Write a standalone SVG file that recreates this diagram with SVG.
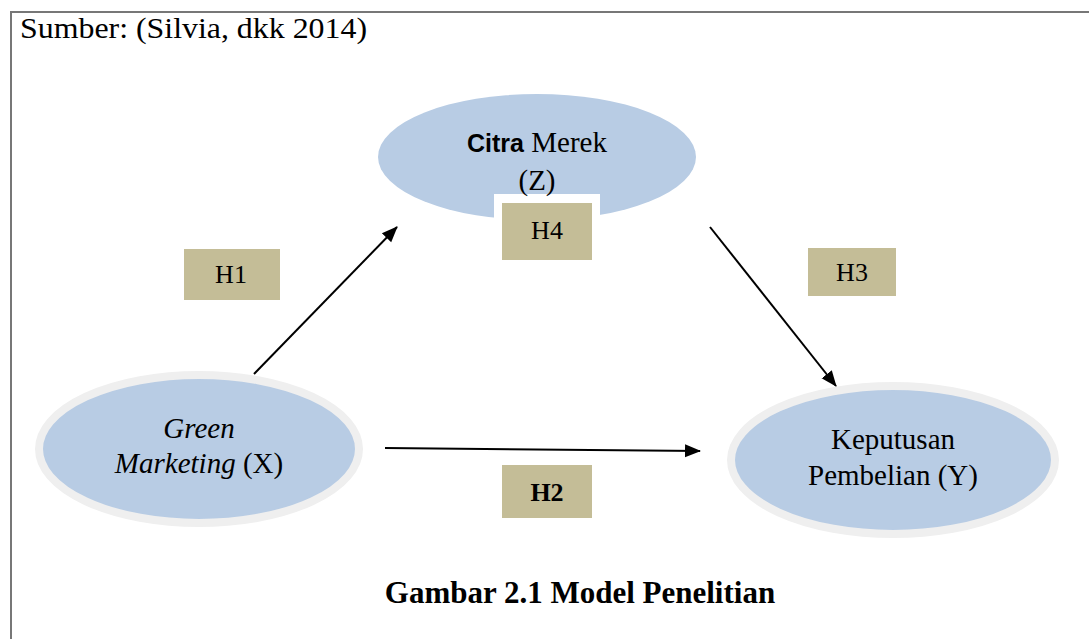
<svg xmlns="http://www.w3.org/2000/svg" width="1089" height="639" viewBox="0 0 1089 639">
<style>
.t{font-family:"Liberation Serif","Times New Roman",serif;fill:#000;}
.node{fill:#b8cce4;}
.halo{fill:#b8cce4;stroke:#efefef;stroke-width:8;}
.box{fill:#c4bd97;}
.conn{stroke:#000;stroke-width:2;fill:none;marker-end:url(#ah);}
</style>
<defs>
<marker id="ah" markerWidth="16" markerHeight="16" refX="15" refY="8" orient="auto" markerUnits="userSpaceOnUse" viewBox="0 0 16 16">
<path d="M0,1.5 L16,8 L0,14.5 z" fill="#000"/>
</marker>
</defs>
<rect width="1089" height="639" fill="#fff"/>
<path d="M11,639 V12 H1089" fill="none" stroke="#777" stroke-width="2"/>
<text class="t" x="20" y="38" font-size="30" textLength="347" lengthAdjust="spacingAndGlyphs">Sumber: (Silvia, dkk 2014)</text>

<g id="node-z">
<ellipse class="node" cx="537" cy="157" rx="159" ry="63"/>
<rect x="494" y="194" width="106" height="30" fill="#fff"/>
<text class="t" x="537" y="152" font-size="29" text-anchor="middle"><tspan font-family="Liberation Sans, Arial, sans-serif" font-weight="bold" font-size="25">Citra</tspan> Merek</text>
<text class="t" x="537" y="190" font-size="29" text-anchor="middle">(Z)</text>
</g>

<g id="node-x">
<ellipse class="halo" cx="199" cy="449" rx="160" ry="74"/>
<text class="t" x="199" y="438" font-size="29" font-style="italic" text-anchor="middle">Green</text>
<text class="t" x="199" y="473" font-size="29" text-anchor="middle"><tspan font-style="italic">Marketing</tspan> (X)</text>
</g>

<g id="node-y">
<ellipse class="halo" cx="893" cy="460" rx="162" ry="74"/>
<text class="t" x="893" y="449" font-size="29" text-anchor="middle">Keputusan</text>
<text class="t" x="893" y="485" font-size="29" text-anchor="middle">Pembelian (Y)</text>
</g>

<g id="label-h1">
<rect class="box" x="184" y="249" width="96" height="51"/>
<text class="t" x="231" y="283" font-size="26" text-anchor="middle">H1</text>
</g>
<g id="label-h2">
<rect class="box" x="502" y="465" width="90" height="53"/>
<text class="t" x="547" y="501" font-size="26" font-weight="bold" text-anchor="middle">H2</text>
</g>
<g id="label-h3">
<rect class="box" x="808" y="248" width="88" height="48"/>
<text class="t" x="852" y="281" font-size="26" text-anchor="middle">H3</text>
</g>
<g id="label-h4">
<rect class="box" x="502" y="203" width="90" height="57"/>
<text class="t" x="547" y="239" font-size="26" text-anchor="middle">H4</text>
</g>

<g id="connectors">
<line class="conn" x1="254" y1="374" x2="397" y2="227"/>
<line class="conn" x1="710" y1="227" x2="836" y2="386"/>
<line class="conn" x1="385" y1="448" x2="700" y2="451"/>
</g>

<text class="t" x="580" y="603" font-size="31" font-weight="bold" text-anchor="middle">Gambar 2.1 Model Penelitian</text>
</svg>
